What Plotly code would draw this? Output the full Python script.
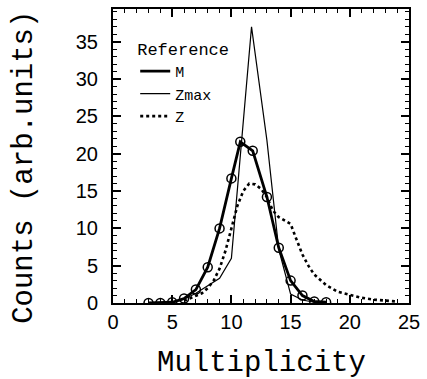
import plotly.graph_objects as go

# M (Reference) data
m_x = [3, 4, 5, 6, 7, 8, 9, 10, 10.75, 11.8, 13, 14, 15, 16, 17, 18]
m_y = [0.0, 0.0, 0.1, 0.6, 1.8, 4.8, 10.0, 16.7, 21.6, 20.4, 14.2, 7.4, 3.0, 1.0, 0.2, 0.1]

# Zmax data
zmax_x = [5, 6, 7, 8, 9, 10, 11.7, 13, 14, 15, 16, 17, 18]
zmax_y = [0.0, 0.5, 1.3, 2.3, 3.3, 6.0, 37.0, 21.8, 7.2, 1.2, 0.4, 0.1, 0.0]

# Z data
z_x = [6, 6.5, 7, 7.5, 8, 8.5, 9, 9.5, 10, 10.5, 11, 11.5, 12, 12.5, 13, 13.5,
       14, 14.5, 15, 15.5, 16, 16.5, 17, 18, 19, 20, 21, 22, 23, 24]
z_y = [0.3, 0.6, 0.9, 1.3, 2.0, 3.0, 4.6, 7.0, 10.0, 13.0, 15.0, 16.0, 15.9, 15.3,
       14.2, 12.4, 11.5, 11.1, 10.6, 8.5, 6.5, 5.0, 3.8, 2.4, 1.5, 1.1, 0.7, 0.45, 0.3, 0.2]

x_ticks = [0, 5, 10, 15, 20, 25]
y_ticks = [0, 5, 10, 15, 20, 25, 30, 35]

MONO = "Courier New, Liberation Mono, monospace"
SANS = "Liberation Sans, Arial, sans-serif"

fig = go.Figure()
fig.add_trace(go.Scatter(x=m_x, y=m_y, mode="lines", name="M",
                         line=dict(color="black", width=2.8)))
fig.add_trace(go.Scatter(x=zmax_x, y=zmax_y, mode="lines", name="Zmax",
                         line=dict(color="black", width=1.2)))
fig.add_trace(go.Scatter(x=z_x, y=z_y, mode="lines", name="Z",
                         line=dict(color="black", width=2.6, dash="dot")))
fig.add_trace(go.Scatter(x=m_x, y=m_y, mode="markers", showlegend=False,
                         marker=dict(symbol="circle-open", size=9, color="black",
                                     line=dict(width=1.5, color="black"))))

axis_common = dict(
    showgrid=False, zeroline=False, showline=True, linecolor="black", linewidth=2,
    mirror="ticks", ticks="inside", ticklen=8, tickwidth=1.5, tickcolor="black",
    tickfont=dict(family=SANS, size=20, color="black"),
)

fig.update_xaxes(
    range=[0, 25], tickvals=x_ticks,
    minor=dict(dtick=1, ticks="inside", ticklen=4, tickwidth=1.2, tickcolor="black"),
    ticklabelstandoff=0,
    **axis_common,
)
fig.update_yaxes(
    range=[0, 39.4], tickvals=y_ticks,
    minor=dict(dtick=1, ticks="inside", ticklen=4, tickwidth=1.2, tickcolor="black"),
    ticklabelstandoff=9,
    **axis_common,
)

fig.add_annotation(text="Multiplicity", xref="paper", yref="paper",
                   x=0.503, y=-0.205, xanchor="center", yanchor="middle", showarrow=False,
                   font=dict(family=MONO, size=29, color="black"))
fig.add_annotation(text="Counts (arb.units)", xref="paper", yref="paper",
                   x=-0.297, y=0.46, xanchor="center", yanchor="middle", showarrow=False,
                   textangle=-90, font=dict(family=MONO, size=29, color="black"))

fig.update_layout(
    width=427, height=379,
    margin=dict(l=113, r=14, t=7, b=76),
    paper_bgcolor="white", plot_bgcolor="white",
    showlegend=True,
    legend=dict(
        x=0.075, y=0.919, xanchor="left", yanchor="top",
        bgcolor="rgba(0,0,0,0)",
        font=dict(family=MONO, size=15, color="black"),
        title=dict(text="Reference", font=dict(family=MONO, size=17, color="black"), side="top"),
        itemwidth=30, tracegroupgap=0,
    ),
)

fig.write_html("out.html")
